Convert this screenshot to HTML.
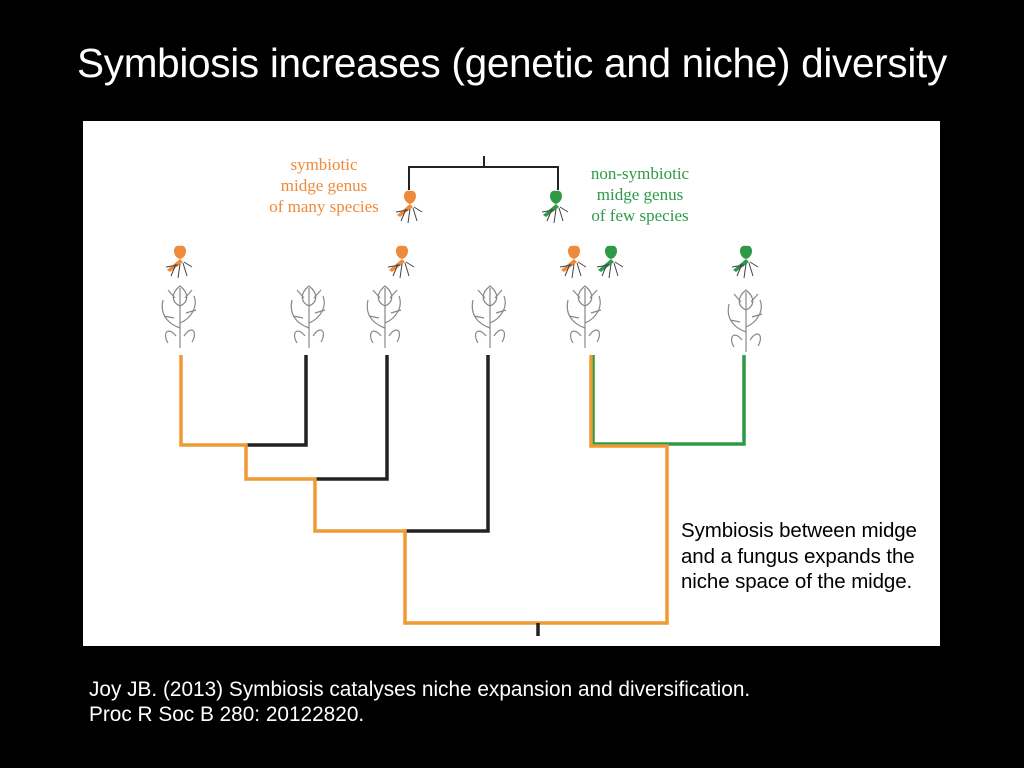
<!DOCTYPE html>
<html><head><meta charset="utf-8"><style>
body{margin:0;width:1024px;height:768px;background:#000;overflow:hidden;position:relative;font-family:"Liberation Sans",sans-serif}
.t{position:absolute;left:0;width:1024px;top:40px;text-align:center;color:#fff;font-size:40.5px;letter-spacing:-0.3px}
.panel{position:absolute;left:83px;top:121px;width:857px;height:525px;background:#fff}
.c{position:absolute;left:89px;top:677px;color:#fff;font-size:20.8px;line-height:25px}
</style></head><body>
<div class="t">Symbiosis increases (genetic and niche) diversity</div>
<div class="panel"></div>
<svg width="1024" height="768" style="position:absolute;left:0;top:0">
<defs>
<g id="m"><path d="M0,-16 C-8,-18 -8,-5 0,-3 C8,-5 8,-18 0,-16Z"/><path d="M0,-3 L-13,8 L-10,10 L3,0Z"/><g stroke="#444" stroke-width="1" fill="none"><path d="M-4,2 L-9,14 M0,2 L-2,16 M3,1 L7,14 M4,0 L12,5 M-2,3 L-14,5"/></g></g>
<g id="p" stroke="#888" stroke-width="1.2" fill="none"><path d="M0,0 L0,-60 M0,-20 C-14,-25 -20,-35 -17,-48 M0,-25 C12,-30 18,-42 14,-52 M0,-42 C-9,-46 -9,-55 0,-62 C9,-55 9,-46 0,-42 M-12,-5 C-18,-15 -12,-22 -4,-12 M12,-6 C18,-16 12,-24 4,-12 M-6,-30 L-16,-32 M6,-35 L16,-38 M-5,-50 L-12,-58 M5,-50 L12,-58"/></g>
</defs>
<g font-family="Liberation Serif,serif" font-size="17" text-anchor="middle">
<g fill="#ef8a3a"><text x="324" y="170">symbiotic</text><text x="324" y="191">midge genus</text><text x="324" y="212">of many species</text></g>
<g fill="#2e9a48"><text x="640" y="179">non-symbiotic</text><text x="640" y="200">midge genus</text><text x="640" y="221">of few species</text></g>
</g>
<g stroke="#222" stroke-width="2" fill="none"><path d="M484,156 V167 M409,190 V167 H558 V190"/></g>
<g fill="#ef8a3a"><use href="#m" x="410" y="207"/><use href="#m" x="180" y="262"/><use href="#m" x="402" y="262"/><use href="#m" x="574" y="262"/></g>
<g fill="#2e9a48"><use href="#m" x="556" y="207"/><use href="#m" x="611" y="262"/><use href="#m" x="746" y="262"/></g>
<use href="#p" x="180" y="348"/><use href="#p" x="309" y="348"/><use href="#p" x="385" y="348"/><use href="#p" x="490" y="348"/><use href="#p" x="585" y="348"/><use href="#p" x="746" y="352"/>
<g fill="none" stroke-width="3.5">
<path stroke="#222" d="M306,355 V445 H246 M387,355 V479 H315 M488,355 V531 H405"/>
<path stroke="#2e9a48" d="M593,355 V444 H744 V355"/>
<path stroke="#ef9a33" d="M181,355 V445 H246 V479 H315 V531 H405 V623 H667 V446 H591 V355"/>
<path stroke="#222" d="M538,623 V636"/>
</g>
</svg>
<div style="position:absolute;left:681px;top:518px;color:#000;font-size:20.5px;line-height:25.5px;letter-spacing:-0.1px">Symbiosis between midge<br>and a fungus expands the<br>niche space of the midge.</div>
<div class="c">Joy JB. (2013) Symbiosis catalyses niche expansion and diversification.<br>Proc R Soc B 280: 20122820.</div>
</body></html>
